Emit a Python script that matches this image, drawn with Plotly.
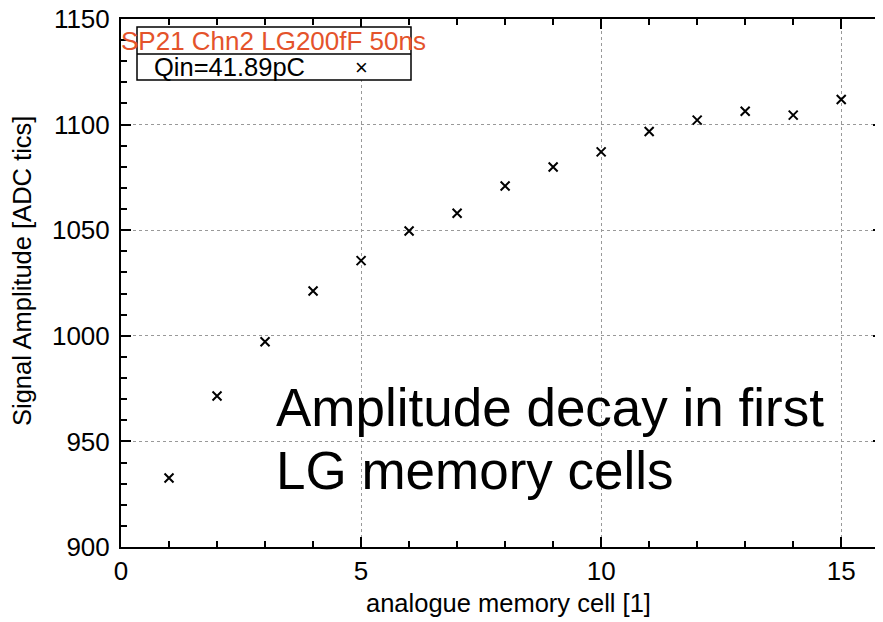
import plotly.graph_objects as go

# data
cells = [1, 2, 3, 4, 5, 6, 7, 8, 9, 10, 11, 12, 13, 14, 15]
amplitude = [932.7, 971.5, 997.2, 1021.2, 1035.6, 1049.6, 1058.0, 1070.9, 1079.9,
             1087.1, 1096.7, 1102.1, 1106.3, 1104.5, 1111.9]

legend_title = 'SP21 Chn2 LG200fF 50ns'
legend_label = 'Qin=41.89pC'

FONT = 'Liberation Sans, Arial, sans-serif'

# plot area in screen pixels (the page adds an 8px body margin)
PL, PR, PT, PB = 121, 883, 19, 547
PW, PH = PR - PL, PB - PT


def px(x):
    return (x - PL) / PW


def py(y):
    return (PB - y) / PH


fig = go.Figure()

fig.add_trace(go.Scatter(x=cells, y=amplitude, mode='markers', showlegend=False,
                         marker=dict(symbol='x-thin', size=9, color='black',
                                     line=dict(width=2, color='black'))))

axis_style = dict(showline=True, linewidth=2, linecolor='black', mirror='allticks',
                  ticks='inside', ticklen=10, tickwidth=2, tickcolor='black',
                  showgrid=True, gridcolor='#999999', griddash='dot', gridwidth=1,
                  zeroline=False, ticklabeloverflow='allow', automargin=False,
                  tickfont=dict(size=26, color='black', family=FONT))

fig.update_xaxes(range=[0, 15.87], dtick=5, tick0=0,
                 minor=dict(dtick=1, ticks='inside', ticklen=6, tickwidth=2,
                            tickcolor='black', showgrid=False),
                 **axis_style)
fig.update_yaxes(range=[900, 1150], dtick=50, tick0=900,
                 minor=dict(dtick=10, ticks='inside', ticklen=6, tickwidth=2,
                            tickcolor='black', showgrid=False),
                 ticklabelstandoff=4,
                 **axis_style)

# axis titles placed like the gnuplot output
fig.add_annotation(text='analogue memory cell [1]', xref='paper', yref='paper',
                   x=px(508), y=py(603), xanchor='center', yanchor='middle', showarrow=False,
                   font=dict(size=25.5, color='black', family=FONT))
fig.add_annotation(text='Signal Amplitude [ADC tics]', xref='paper', yref='paper',
                   x=px(22), y=py(271), xanchor='center', yanchor='middle', showarrow=False,
                   textangle=-90, font=dict(size=25.5, color='black', family=FONT))

# gnuplot-style key box
fig.add_shape(type='rect', xref='paper', yref='paper', x0=px(137), x1=px(411),
              y0=py(80), y1=py(27),
              line=dict(color='black', width=1.5), fillcolor='white', layer='above')
fig.add_shape(type='line', xref='paper', yref='paper', x0=px(137), x1=px(411),
              y0=py(54), y1=py(54),
              line=dict(color='black', width=1.5), layer='above')
fig.add_annotation(text=legend_title, xref='paper', yref='paper', x=px(119),
                   y=py(41), xanchor='left', yanchor='middle', showarrow=False,
                   font=dict(size=26, color='#e4532b', family=FONT))
fig.add_annotation(text=legend_label, xref='paper', yref='paper', x=px(152),
                   y=py(67), xanchor='left', yanchor='middle', showarrow=False,
                   font=dict(size=25.5, color='black', family=FONT))
fig.add_annotation(text='\u00d7', xref='paper', yref='paper', x=px(361),
                   y=py(67), xanchor='center', yanchor='middle', showarrow=False,
                   font=dict(size=22, color='black', family=FONT))

# big overlay text
fig.add_annotation(text='Amplitude decay in first', xref='paper', yref='paper',
                   x=px(274), y=py(407), xanchor='left', yanchor='middle',
                   showarrow=False, font=dict(size=53, color='black', family=FONT))
fig.add_annotation(text='LG memory cells', xref='paper', yref='paper',
                   x=px(274), y=py(470), xanchor='left', yanchor='middle',
                   showarrow=False, font=dict(size=53, color='black', family=FONT))

# faint cut-off footer text
fig.add_annotation(text='2018-05-28', xref='paper', yref='paper', x=px(86),
                   y=py(615), xanchor='left', yanchor='top', showarrow=False,
                   font=dict(size=22, color='#d0d0d0', family=FONT))

fig.update_layout(width=883 - 8, height=622 - 8,
                  margin=dict(l=PL - 8, r=0, t=PT - 8, b=622 - PB, autoexpand=False),
                  paper_bgcolor='white', plot_bgcolor='white',
                  font=dict(family=FONT, color='black'))

fig.write_html('out.html')
